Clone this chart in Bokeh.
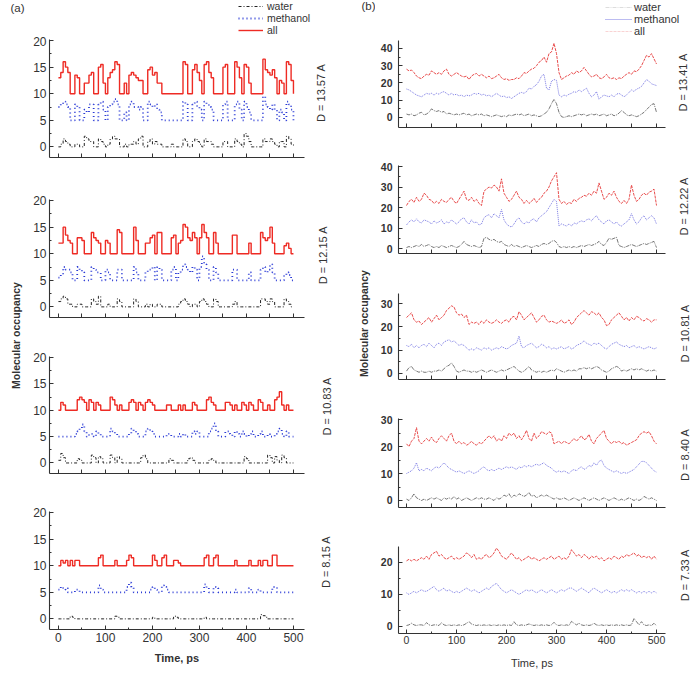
import math

from bokeh.embed import file_html
from bokeh.layouts import column, row
from bokeh.models import FixedTicker, Label, Legend, LegendItem, Range1d
from bokeh.plotting import figure
from bokeh.resources import INLINE

STEP_PS = 5  # sampling interval of every occupancy trace (ps)

# ---------------- (a) occupancy traces, one list per series ----------------
a1_water = [0, 0.5, 1.5, 1, 0.5, 0, 0, 0.5, 0.5, 0,
            0, 2, 1.5, 1, 1, 0, 0, 1.5, 1, 0.5,
            0, 0.5, 1.5, 2, 1.5, 1.5, 0, 0, 0.5, 0,
            0.5, 0.5, 1, 0.5, 1.5, 2, 0, 0, 1, 1.5,
            0.5, 1, 0.5, 0.5, 0, 0, 0, 0, 0.5, 0,
            0, 0, 0, 1.5, 1, 0, 0, 1, 1.5, 1,
            0.5, 0, 1.5, 1, 1, 0.5, 0, 0, 0, 0,
            1, 1, 0, 0, 0, 1.5, 1, 0.5, 0, 2.5,
            2, 1, 0, 0, 0, 0, 0, 1.5, 1, 1,
            1.5, 1, 0.5, 0, 1, 1, 0, 2, 1.5, 0.5,
            0]
a1_methanol = [7.5, 8, 8.5, 8, 7.5, 5, 5, 8, 7.5, 5,
               5, 7, 6.5, 8, 8, 5, 5, 8, 8.5, 7,
               5, 7.5, 8, 8.5, 9, 8, 5, 5, 6.5, 5,
               8, 8.5, 7.5, 7.5, 7, 7.5, 5, 5, 8.5, 8,
               7.5, 8, 7, 6.5, 5, 5, 5, 5, 5, 5,
               5, 5, 5, 8.5, 8, 5, 5, 8, 8.5, 7.5,
               7, 5, 8.5, 8, 7.5, 7, 5, 5, 5, 5,
               8, 8.5, 5, 5, 5, 8, 8.5, 7, 5, 8.5,
               7.5, 6.5, 5, 5, 5, 5, 5, 9.5, 8, 7.5,
               7, 8, 7, 5, 7, 6.5, 5, 8.5, 8, 7,
               5]
a1_all = [13, 14, 16, 15, 14, 10, 10, 13.5, 13, 10,
          10, 12, 12, 13.5, 14, 10, 10, 15, 15.5, 12,
          10, 13, 14, 14.5, 16, 15.5, 10, 10, 12, 10,
          13.5, 14, 13.5, 13, 12.5, 12.5, 10, 10, 14.5, 15,
          13.5, 14, 12, 12, 10, 10, 10, 10, 10, 10,
          10, 10, 10, 16, 15.5, 10, 10, 14.5, 15.5, 14,
          12.5, 10, 15.5, 16, 14, 13, 10, 10, 10, 10,
          15, 15.5, 10, 10, 10, 16, 15, 13, 10, 15.5,
          15, 12, 10, 10, 10, 10, 10, 16.5, 14.5, 14,
          13.5, 14.5, 13, 10, 12.5, 12, 10, 16, 15.5, 12.5,
          10]

a2_water = [1, 1.5, 2, 1.5, 0.5, 0.5, 0, 0, 0.5, 0.5,
            0, 0, 0, 0, 1.5, 1, 0.5, 2, 0, 0,
            0, 0.5, 0, 0, 0, 1.5, 1, 0, 0, 0,
            0, 0, 1.5, 1, 0, 0, 0, 0.5, 0, 0.5,
            0, 0, 0.5, 0.5, 0, 0, 0, 0, 0, 0,
            0, 0.5, 1, 1.5, 1, 0.5, 0, 0.5, 0.5, 0,
            1, 1.5, 1, 0.5, 0, 0, 1.5, 1, 0, 0,
            0, 0, 0, 0, 0.5, 1, 0, 0, 0, 0,
            0, 0, 0, 0, 0, 0, 1.5, 1.5, 1, 0.5,
            1.5, 1, 0, 0, 0, 0, 1.5, 1, 0.5, 0,
            0]
a2_methanol = [5.5, 6, 7.5, 7, 7, 6.5, 5, 5, 7.5, 7,
               6.5, 5, 5, 5, 7.5, 7, 6.5, 6.5, 5, 5,
               7, 6.5, 5, 5, 5, 7, 7, 5, 5, 5,
               5, 5, 7.5, 6.5, 5, 5, 5, 6.5, 7, 7,
               7.5, 5, 7.5, 7, 5, 5, 5, 5, 7, 7.5,
               5, 6.5, 7, 8, 7.5, 7, 6.5, 7.5, 7, 5,
               7.5, 9.5, 8, 7, 5, 5, 7.5, 6.5, 5, 5,
               5, 5, 5, 5, 7, 7, 5, 5, 5, 5,
               5, 6.5, 5, 5, 5, 5, 7, 7.5, 6.5, 7,
               8, 6.5, 5, 5, 5, 5, 6, 6.5, 6, 5,
               5]
a2_all = [12, 12, 15, 13.5, 12.5, 12, 10, 10, 13, 13,
          12.5, 10, 10, 10, 14, 13, 12.5, 12, 10, 10,
          12.5, 12, 10, 10, 10, 14.5, 14, 10, 10, 10,
          10, 10, 15, 12.5, 10, 10, 10, 12, 12, 13,
          13.5, 10, 14, 14, 10, 10, 10, 10, 13, 13.5,
          10, 12, 12.5, 15.5, 15, 13, 12.5, 14, 13, 10,
          13, 15.5, 14, 13, 10, 10, 14, 12, 10, 10,
          10, 10, 10, 10, 13.5, 13.5, 10, 10, 10, 10,
          10, 12, 10, 10, 10, 10, 14, 13, 12.5, 13,
          15, 12, 10, 10, 10, 10, 11.5, 12, 11, 10,
          10]

a3_water = [0.5, 1.8, 1, 0, 0, 0, 0, 0, 0.8, 0.5,
            0, 0, 0, 0, 1.5, 1, 0, 1.2, 0.8, 0,
            0, 0, 1.5, 1, 0, 1.2, 0.8, 0, 0, 0,
            0, 0, 0, 0, 0, 1, 1.5, 0.8, 0, 0,
            0, 0, 0, 0, 0, 0, 0, 0.8, 0.5, 0,
            0, 0, 0, 0, 0, 0.8, 1, 0.5, 0, 0,
            0, 0, 0, 0, 0.5, 0.8, 0.5, 0, 0, 0,
            0, 0, 0, 0, 0, 0, 0, 0, 0, 1.2,
            0.8, 0, 0, 0, 0, 0, 0, 0, 0, 1.5,
            1, 0, 1.2, 0.5, 0, 1.5, 1, 0, 0, 0,
            0]
a3_methanol = [5, 5, 5, 5, 5, 5, 5, 5.5, 6, 6.5,
               7.3, 6, 5, 5.5, 5.5, 5, 6, 5.5, 5, 5,
               5, 5, 6.5, 6, 5.5, 5, 5, 5, 5, 5,
               5.5, 6.5, 6, 5.5, 5, 5, 5, 6, 6.5, 6,
               5.5, 5, 5, 5, 5, 5, 5.5, 5.5, 5, 5,
               5, 5.5, 5, 5.5, 5, 5, 5, 6, 5.5, 6,
               5, 5, 5, 5, 6, 6.5, 7.5, 6, 5, 5,
               5, 6, 6, 5.5, 5, 6, 5.5, 5, 6, 5.5,
               5, 5.5, 6, 5, 5, 5.5, 6, 5, 5, 5.5,
               5, 5, 5.5, 6, 6.5, 5.5, 5, 6, 5, 5,
               5]
a3_all = [10, 11.5, 11, 10, 10, 10, 10, 10, 12, 12.5,
          12, 11.5, 10, 12, 11.5, 10, 11.5, 11, 10, 10,
          10, 10, 12.5, 12, 11, 10, 11, 10, 10, 10,
          11.5, 12, 11.5, 10, 11.5, 11, 10, 11.5, 12, 11.5,
          11, 10, 10, 10, 10, 10, 11, 11, 10, 10,
          10, 11, 10, 11, 10, 10, 10, 11.5, 11, 10,
          10, 10, 10, 12, 12.5, 11.5, 11, 10, 10, 10,
          10, 11.5, 11.5, 11, 10, 11, 10, 10, 11.5, 11,
          10, 11.5, 11, 10, 10, 12, 11.5, 10, 10, 11,
          10, 10, 12, 12.5, 13.5, 11, 10, 11, 10, 10,
          10]

a4_water = [0, 0, 0, 0, 0, 0.5, 0.3, 0, 0, 0,
            0, 0, 0, 0, 0, 0, 0, 0, 0, 0,
            0, 0, 0, 0, 0.5, 0.3, 0, 0, 0, 0,
            0, 0, 0, 0, 0, 0, 0, 0, 0, 0,
            0.3, 0, 0, 0, 0, 0, 0, 0, 0, 0.5,
            0.3, 0, 0, 0, 0, 0, 0, 0, 0, 0,
            0, 0, 0.3, 0, 0, 0, 0, 0, 0, 0,
            0, 0, 0, 0, 0, 0, 0, 0, 0, 0,
            0, 0, 0, 0, 0, 0, 0.8, 0.6, 0.3, 0,
            0, 0, 0, 0, 0, 0, 0, 0, 0, 0,
            0]
a4_methanol = [5.5, 6, 5.5, 5.8, 5, 5, 5, 5.5, 5.5, 5,
               5, 5, 5, 5, 5, 5, 5, 6.3, 5.5, 5,
               5, 5, 5, 5, 5, 5, 5, 5, 5, 6,
               6.8, 6, 5, 5, 5, 5, 5, 5, 5, 5.5,
               6, 5.5, 5, 5, 6.3, 6, 5.5, 5, 5, 5,
               5, 5, 5, 5, 5, 5, 5, 5, 5, 5,
               5, 5, 6.5, 5.8, 5, 5, 6, 5.8, 5, 5,
               5, 5, 5, 5, 5, 5.5, 5, 5, 5, 5,
               5, 5.8, 5, 5, 5, 5.5, 5, 5, 5, 5,
               5, 6, 6, 5, 5, 5, 5, 5, 5, 5,
               5]
a4_all = [10, 11, 10.5, 11, 10, 11, 10, 11, 11, 10,
          10, 10, 10, 10, 10, 10, 10, 11.5, 12, 10,
          10, 10, 10, 10, 11, 10, 10, 10, 10, 11,
          12, 11.5, 10, 10, 10, 10, 10, 10, 10, 10,
          12, 11, 10, 10, 11.5, 12, 10, 10, 10, 11,
          11, 10.5, 10, 10, 10, 10, 10, 10, 10, 10,
          10, 10, 11.5, 12, 10, 10, 11.5, 12, 10, 10,
          10, 10, 10, 10, 10, 11, 10, 10, 10, 10,
          10, 11, 10, 10, 10, 11, 10, 11, 11, 10,
          10, 12, 12, 10, 10, 10, 10, 10, 10, 10,
          10]

# ---------------- (b) occupancy traces ----------------
b1_water = [2, 1.5, 2, 1, 1.5, 2.5, 3, 1.5, 2, 3,
            5, 4, 3.5, 4, 3, 3.5, 2, 2.5, 2, 1.5,
            2, 1.5, 2, 2.5, 1.5, 2, 1, 1.5, 2, 1.5,
            2, 1, 1.5, 1, 0.5, 1, 1.5, 1, 0.5, 1,
            0.5, 1.5, 1, 1.5, 2, 1.5, 2, 1, 1.5, 2,
            1, 1.5, 1, 0.5, 1, 2, 3, 5, 8, 10.5,
            8, 3, 0.5, 0, 0.5, 1, 0.5, 1, 1.5, 2,
            1.5, 2, 1, 1.5, 2, 1.5, 2, 1, 1.5, 2,
            1, 1.5, 2, 1, 1.5, 2.5, 4, 3, 1.5, 1,
            1.5, 1, 0.5, 1, 2, 3, 4.5, 6, 7.5, 8,
            3]
b1_methanol = [16.5, 16, 15, 14, 13, 12.5, 12, 13, 14, 13.5,
               14, 13, 14, 13.5, 14.5, 15, 14, 13, 14, 13,
               13.5, 12.5, 13, 12, 13, 12.5, 13, 14, 13.5, 14,
               13, 13.5, 12.5, 13, 12, 13, 14, 13, 12, 12.5,
               11.5, 12, 11, 12, 13, 14, 14.5, 14, 15, 17,
               16.5, 18, 19, 21, 24, 25, 17, 16, 21, 22,
               21.5, 13, 12, 13, 12.5, 13.5, 14, 15, 14.5, 16,
               15, 16, 17, 14, 12, 13, 15, 10.5, 12, 13,
               12.5, 12, 13, 12, 13.5, 14, 13, 12, 13, 14.5,
               16, 15, 16.5, 17, 18, 20, 22, 21, 19.5, 19,
               18.5]
b1_all = [28, 27, 27.5, 26, 24, 23, 22.5, 24, 25, 24.5,
          27, 26, 25, 26, 25, 27, 28, 25, 24, 25,
          26, 25, 24, 23.5, 24, 22, 24, 25, 25.5, 24,
          25, 24, 23, 24, 22.5, 23, 24, 25, 23, 22,
          22.5, 21.5, 22, 22, 23, 22.5, 24, 26, 25.5, 27,
          28, 28.5, 30, 32, 33, 35, 32, 37, 38, 43,
          37, 26, 22, 23, 24, 24.5, 26, 25, 27, 26,
          27, 29, 27, 25, 23.5, 24, 25, 23, 22.5, 23.5,
          25, 23, 22.5, 23, 22, 23, 22.5, 24, 25, 26,
          25, 27, 26.5, 28, 30, 33, 36, 35, 37, 34,
          31]

b2_water = [0.5, 1, 0.5, 1, 1.5, 1, 2, 1, 1.5, 2,
            1, 0.5, 1, 0.5, 1.5, 1, 0.5, 1, 1.5, 1,
            0.5, 1, 2, 3.5, 2, 1.5, 1, 1.5, 1, 0.5,
            1, 5, 5.5, 4.5, 4, 4.5, 3.5, 3, 3.5, 2,
            1.5, 1, 2, 1, 1.5, 1, 0.5, 1, 1.5, 1,
            0.5, 1, 1.5, 1, 2, 2.5, 2, 2.5, 3.5, 4,
            3, 1, 0.5, 1, 0.5, 1, 0.5, 1, 0.5, 1,
            1.5, 1, 1.5, 2, 1.5, 2, 2.5, 3.5, 2, 1.5,
            3, 5, 4.5, 5, 5.5, 1.5, 1, 0.5, 1, 1.5,
            2, 1.5, 1, 1.5, 2, 2.5, 2, 2.5, 3, 3.5,
            0.5]
b2_methanol = [11.5, 13, 14, 13, 14.5, 13, 12.5, 14, 13.5, 13,
               12, 13.5, 12.5, 13, 14, 12, 13, 12.5, 14, 13,
               12, 13, 14.5, 15, 13, 12, 14, 12.5, 13, 11.5,
               12, 15, 16, 16.5, 15, 17, 16, 15, 19, 14,
               12, 11, 10.5, 12, 14, 15, 13, 12, 13, 12.5,
               14, 14.5, 13, 15, 16, 17, 18, 20, 22, 24,
               23, 11, 12, 11.5, 11, 12, 11, 12.5, 12, 13,
               13.5, 13, 14, 14.5, 13.5, 15, 16, 14, 13, 12,
               13.5, 14, 13, 12, 13, 11.5, 11, 12, 13, 14,
               17, 14, 12, 13, 15, 16, 14, 15, 16, 15,
               12]
b2_all = [21, 23, 24, 22.5, 25, 23, 24, 27, 26, 24,
          23.5, 22, 23, 22, 24, 23, 22.5, 24, 25, 23,
          22, 24, 26, 28, 24, 23.5, 25, 23, 24, 22,
          21, 28, 29, 30, 29.5, 31, 30, 28, 34, 27,
          25, 23, 24, 26, 28, 25, 24, 22, 23.5, 22,
          23, 24.5, 22.5, 24, 25, 27, 28, 30, 33, 35,
          37, 24, 22, 23, 21.5, 22.5, 22, 24, 23, 24.5,
          25, 26, 25.5, 27, 26, 28, 27, 32, 28, 24,
          25, 27, 26, 28, 25, 23, 22, 23.5, 22, 24,
          31, 26, 23, 24, 26, 27, 26, 27.5, 28, 29,
          21]

b3_water = [1, 2.5, 3, 1.5, 1, 0.5, 1, 0.5, 0.5, 1,
            0.5, 1, 1, 1.5, 1, 2, 3, 3.5, 4.5, 3,
            1, 0.5, 1, 1.5, 1, 1, 0.5, 1, 0.5, 1,
            1.5, 1, 0.5, 1, 1.5, 1, 0.5, 1, 1.5, 1,
            1.5, 2, 2.5, 3, 2, 1, 0.5, 1, 2, 3,
            1.5, 1, 0.5, 1, 0.5, 1, 0.5, 1, 1.5, 1,
            2, 1.5, 1, 0.5, 1, 1.5, 1, 1.5, 1, 2,
            2, 2.5, 2, 2.5, 2, 2.5, 3, 2.5, 1.5, 1,
            0.5, 1, 2, 2.5, 3, 2.5, 1, 1.5, 1, 1.5,
            2, 1.5, 2, 1.5, 2, 1.5, 1, 1.5, 1, 1.5,
            1]
b3_methanol = [12, 11.5, 12.5, 11, 12, 11, 12, 12.5, 11.5, 13,
               12, 11, 12.5, 13, 12, 13.5, 14, 14.5, 13.5, 14,
               13, 12, 12.5, 12, 11, 10, 10.5, 10, 11, 10.5,
               10, 11, 10.5, 11, 10, 10.5, 11, 10.5, 11.5, 11,
               10.5, 11, 12, 12.5, 13, 16, 11.5, 11, 12, 12.5,
               13, 12, 11, 11.5, 12.5, 12, 11, 11.5, 10.5, 11,
               10.5, 11, 11.5, 10.5, 11, 11.5, 10.5, 11, 12, 12.5,
               13, 14, 13, 12.5, 12, 13, 12.5, 13, 12, 11,
               10.5, 11.5, 12.5, 13, 13.5, 12.5, 12, 11.5, 12, 11,
               11.5, 12, 11, 11.5, 11, 10.5, 11, 11.5, 11, 10.5,
               11]
b3_all = [24, 25, 26, 23, 22, 22.5, 21, 22, 23, 24,
          22, 23.5, 25, 23, 24, 25, 27, 28, 29, 28.5,
          26, 25, 25.5, 24, 25, 21, 22, 21.5, 22, 21,
          22.5, 21.5, 23, 22, 21.5, 22, 23, 22, 21.5, 22.5,
          23, 22, 24, 24.5, 23, 26.5, 25, 23, 24, 25,
          26, 24, 22, 23, 24.5, 25, 23, 22, 22.5, 22,
          21.5, 22, 23, 21.5, 22, 23, 21, 22, 24, 25,
          26, 27, 26, 25, 26.5, 26, 25, 26, 24, 23,
          20.5, 21, 23, 24, 25, 26, 24.5, 23, 24, 22.5,
          24, 23, 24.5, 24, 23, 22.5, 23.5, 23, 22, 23,
          23]

b4_water = [0.5, 0, 1, 2.5, 1, 0.5, 0, 0.5, 0, 0.5,
            1, 0.5, 1, 0.5, 0, 1, 0.5, 1, 0.5, 1.5,
            0.5, 1, 0, 0.5, 1, 0.5, 0, 0.5, 1, 0.5,
            1, 0.5, 0.5, 1, 0.5, 0, 1, 0.5, 1, 2,
            1.5, 2.5, 1, 2, 1.5, 2.5, 2, 1.5, 2, 3,
            1.5, 2, 1, 1.5, 2, 1.5, 2, 1.5, 1, 0.5,
            1, 0.5, 0.5, 1, 0.5, 0, 0.5, 1, 0.5, 0,
            0.5, 1, 0.5, 0, 0.5, 1, 0.5, 0, 0.5, 1,
            0.5, 0, 0.5, 1, 0.5, 0, 0.5, 0, 0.5, 1,
            0.5, 0, 0.5, 0, 0.5, 1.5, 1, 0.5, 1, 0.5,
            0]
b4_methanol = [10, 10.5, 11, 12, 14, 11, 11.5, 11, 12, 11.5,
               11, 12, 12.5, 12, 13, 14, 13, 12, 11.5, 11,
               10.5, 11, 10.5, 10, 10.5, 11, 10.5, 10, 10.5, 11,
               12, 12.5, 11.5, 11, 11.5, 11, 11.5, 12, 11.5, 12,
               12.5, 12, 12.5, 12, 11.5, 12.5, 12, 13, 12.5, 13,
               12.5, 13, 13.5, 13, 13.5, 14, 13, 12.5, 12, 11,
               10.5, 11, 10.5, 11, 10.5, 10, 11, 11.5, 11, 12,
               12.5, 11.5, 12, 13, 12.5, 14, 13, 14.5, 15, 13,
               12, 11.5, 11, 10.5, 11, 10.5, 10, 10.5, 10, 10.5,
               11, 11.5, 12.5, 13.5, 14.5, 14.5, 14, 13, 12, 11,
               10.5]
b4_all = [21, 20, 22, 23, 27, 22, 21, 22, 23, 22,
          23.5, 22, 21.5, 23, 24, 23, 22, 24, 25, 22,
          21, 22, 21, 21.5, 20.5, 21, 22, 21, 20.5, 21.5,
          21, 22, 23, 24, 23, 24, 22, 23, 22, 24,
          23, 25, 24, 25, 23, 24, 22.5, 24, 26, 23,
          22, 25, 23, 24, 25.5, 25, 24.5, 25.5, 25, 21,
          21.5, 22, 21, 22, 21.5, 21, 22, 23, 22, 23,
          24, 22.5, 23, 24.5, 22, 21, 23, 24, 25, 26,
          23, 22, 21, 22, 21.5, 22, 21, 21.5, 20.5, 21,
          21.5, 22, 22.5, 24, 25, 25.5, 25, 25.5, 24, 22,
          21]

b5_water = [0.3, 0.5, 1, 0.5, 0.3, 0.5, 0.5, 0.3, 1.2, 0.5,
            0.3, 0.5, 0.5, 0.3, 1.2, 0.5, 0.3, 0.5, 0.3, 0.5,
            0.3, 0.5, 0.3, 0.5, 1, 1.5, 0.8, 0.5, 0.3, 0.5,
            0.3, 0.5, 0.3, 0.5, 0.3, 0.5, 0.3, 0.5, 0.3, 0.5,
            0.3, 0.5, 0.3, 1.5, 0.5, 0.3, 0.5, 0.3, 0.5, 0.8,
            0.5, 0.3, 0.5, 0.3, 0.5, 0.3, 0.5, 0.3, 0.5, 1.3,
            0.5, 0.3, 0.5, 0.3, 0.5, 0.3, 1.6, 1, 0.5, 1,
            0.5, 0.3, 0.5, 0.3, 0.5, 1, 0.5, 0.3, 0.5, 0.3,
            0.5, 0.3, 0.5, 0.3, 0.5, 0.3, 0.5, 0.3, 0.5, 0.3,
            0.5, 2.5, 1.5, 0.5, 1.5, 0.5, 0.3, 0.5, 0.3, 1,
            0.3]
b5_methanol = [10.5, 10, 10.5, 11, 10.5, 11, 11.5, 11, 11, 11.5,
               12, 12.5, 11.5, 11, 11.5, 12, 11, 11.5, 11, 10.5,
               11, 10.5, 11, 11.5, 12, 11.5, 11, 11.5, 11, 10.5,
               11, 11.5, 12, 11.5, 12.5, 13, 13.5, 12.5, 11.5, 11,
               10.5, 11, 11.5, 11, 10.5, 10, 10.5, 11, 11.5, 11,
               11.5, 11, 10.5, 11, 11.5, 11, 10.5, 11, 11.5, 11,
               10.5, 11, 11.5, 11, 11.5, 12, 12, 11.5, 11, 11.5,
               12, 11.5, 11, 10.5, 11.5, 12, 11.5, 11, 10.5, 11,
               11.5, 11, 10.5, 11, 10.5, 11, 11.5, 11, 11.5, 11,
               11.5, 11, 10.5, 11, 10.5, 11, 10.5, 11, 10.5, 11,
               10.5]
b5_all = [20.5, 21, 20.5, 21, 20.5, 21, 21.5, 21, 22, 21,
          22.5, 23, 23.5, 22, 22.5, 21.5, 21, 21.5, 22, 21,
          21.5, 21, 21.5, 22, 23, 22.5, 21.5, 22.5, 21, 21.5,
          21, 22, 22.5, 21.5, 22, 23, 24.5, 23.5, 22, 21.5,
          21, 22, 23, 22, 21, 21.5, 20.5, 21, 21.5, 22,
          21, 21.5, 21, 20.5, 21, 21.5, 21, 21.5, 22, 21,
          21.5, 22, 21, 21.5, 21, 22, 24, 23, 22, 22.5,
          21.5, 22.5, 22, 21, 22, 21.5, 22, 21, 21.5, 20.5,
          21, 21.5, 21, 22, 21.5, 21, 22, 21.5, 22.5, 22,
          22.5, 23, 22, 22.5, 21.5, 22, 21.5, 22, 21, 22,
          21]

# ---------------- labels and ticks ----------------
SERIES_NAMES = ["water", "methanol", "all"]
A_DISTANCES = ["D = 13.57 A", "D = 12.15 A", "D = 10.83 A", "D = 8.15 A"]
B_DISTANCES = ["D = 13.41 A", "D = 12.22 A", "D = 10.81 A", "D = 8.40 A", "D = 7.33 A"]
TIME_TICKS = [0, 100, 200, 300, 400, 500]
TIME_MINOR = [50, 150, 250, 350, 450]
TIME_ALL = [0, 50, 100, 150, 200, 250, 300, 350, 400, 450, 500]
A_YTICKS = [0, 5, 10, 15, 20]
A_YMINOR = [2.5, 7.5, 12.5, 17.5]
B_YTICKS = [[0, 10, 20, 30, 40], [0, 10, 20, 30, 40], [0, 10, 20, 30], [0, 10, 20, 30], [0, 10, 20]]
B_YMINOR = [[5, 15, 25, 35], [5, 15, 25, 35], [5, 15, 25], [5, 15, 25], [5, 15]]

A_DATA = [(a1_water, a1_methanol, a1_all), (a2_water, a2_methanol, a2_all),
          (a3_water, a3_methanol, a3_all), (a4_water, a4_methanol, a4_all)]
B_DATA = [(b1_water, b1_methanol, b1_all), (b2_water, b2_methanol, b2_all),
          (b3_water, b3_methanol, b3_all), (b4_water, b4_methanol, b4_all),
          (b5_water, b5_methanol, b5_all)]

# ---------------- page geometry ----------------
PAGE_H = 675
FONT = "Liberation Sans"
INK = "#333333"

STRIP_A_W, PANEL_A_W, SIDE_A_W = 28, 278, 44
STRIP_B_W, PANEL_B_W, SIDE_B_W = 25, 292, 31
LEGEND_A_H, LEGEND_B_H = 36, 36

# (height, border_top, border_bottom, y_range, D-label position in its side box)
A_LAYOUT = [
    (144, 3, 23, (-2.0, 20.2), (14, 79)),
    (155, 19, 18, (-2.0, 20.2), (16, 82)),
    (160, 21, 22, (-2.0, 20.2), (20, 92)),
    (180, 16, 46, (-2.0, 20.2), (19, 103)),
]
B_LAYOUT = [
    (104, 4, 13, (-5.8, 44.6), (15, 54)),
    (125, 25, 12, (-2.4, 40.5), (16, 67)),
    (125, 28, 11, (-2.6, 34.3), (17, 67)),
    (130, 28, 13, (-2.6, 30.4), (17, 77)),
    (155, 26, 42, (-2.2, 25.0), (17, 104)),
]
A_X = (-19, 523.5)
B_X = (-16, 518)

A_STYLE = [dict(color="#222222", line_width=1.0, line_dash="3 2 1 2"),
           dict(color="#2b3bd6", line_width=1.8, line_dash="1 3"),
           dict(color="#ee2b24", line_width=1.4)]
B_STYLE = [dict(color="#555555", line_width=0.8, line_dash="4 1 1 1"),
           dict(color="#6a6ae0", line_width=0.9, line_dash="1 1"),
           dict(color="#e53a3a", line_width=0.9, line_dash="3 1")]


def times(vals):
    return [STEP_PS * i for i in range(len(vals))]


def blank(width, height):
    """An axis-less box whose data units are its own pixels."""
    s = figure(width=width, height=height, output_backend="svg", toolbar_location=None,
               x_range=Range1d(0, width), y_range=Range1d(0, height), min_border=0,
               x_axis_location=None, y_axis_location=None)
    s.outline_line_color = None
    s.grid.visible = False
    return s


def base_panel(width, height, left, right, top, bottom, x_rng, y_rng, labelled):
    p = figure(width=width, height=height, output_backend="svg", toolbar_location=None,
               x_range=Range1d(*x_rng), y_range=Range1d(*y_rng),
               min_border_left=left, min_border_right=right,
               min_border_top=top, min_border_bottom=bottom)
    p.outline_line_color = None
    p.xgrid.visible = False
    p.ygrid.visible = False
    for ax in (p.xaxis[0], p.yaxis[0]):
        ax.axis_line_color = INK
        ax.axis_line_width = 1.1
        ax.major_tick_line_color = INK
        ax.minor_tick_line_color = INK
        ax.major_tick_in = 4
        ax.major_tick_out = 0
        ax.minor_tick_in = 2
        ax.minor_tick_out = 0
        ax.major_label_text_font = FONT
        ax.major_label_text_color = INK
    if labelled:
        p.xaxis.ticker = FixedTicker(ticks=TIME_TICKS, minor_ticks=TIME_MINOR)
    else:
        # unlabelled time axis: every tick drawn as an inward minor tick
        p.xaxis.ticker = FixedTicker(ticks=[], minor_ticks=TIME_ALL)
        p.xaxis.minor_tick_in = 4
    return p


def side_box(width, height, text, pos):
    s = blank(width, height)
    s.add_layout(Label(x=pos[0], y=pos[1], text=text, angle=math.pi / 2,
                       text_align="center", text_baseline="middle", text_font=FONT,
                       text_font_size="11px", text_color=INK))
    return s


def legend_box(width, height, styles, kind, loc, glyph_w, standoff, row_h, size):
    s = blank(width, height)
    draw = s.step if kind == "step" else s.line
    # stand-in renderers that only supply the legend samples (no visible points)
    nan = float("nan")
    rends = [draw([nan], [nan], **st) for st in styles]
    s.add_layout(Legend(items=[LegendItem(label=n, renderers=[r]) for n, r in zip(SERIES_NAMES, rends)],
                        location=loc, orientation="vertical", border_line_color=None,
                        background_fill_alpha=0, padding=0, margin=0, spacing=0,
                        glyph_width=glyph_w, glyph_height=row_h, label_height=row_h,
                        label_standoff=standoff, label_text_font=FONT,
                        label_text_font_size=size, label_text_color=INK))
    return s


# ---------------- column (a): step traces ----------------
a_rows = [legend_box(PANEL_A_W + SIDE_A_W, LEGEND_A_H, A_STYLE, "step", (210, 0), 25, 4, 12, "10.5px")]
for i, ((h, top, bottom, y_rng, d_pos), series) in enumerate(zip(A_LAYOUT, A_DATA)):
    last = i == len(A_LAYOUT) - 1
    p = base_panel(PANEL_A_W, h, 21, 2, top, bottom, A_X, y_rng, last)
    p.yaxis.ticker = FixedTicker(ticks=A_YTICKS, minor_ticks=A_YMINOR)
    p.yaxis.major_label_text_font_size = "12px"
    p.yaxis.major_label_standoff = 3
    if last:
        p.xaxis.major_label_text_font_size = "12px"
        p.xaxis.major_label_standoff = 3
        p.xaxis.axis_label = "Time, ps"
        p.xaxis.axis_label_text_font = FONT
        p.xaxis.axis_label_text_font_size = "11px"
        p.xaxis.axis_label_text_font_style = "bold"
        p.xaxis.axis_label_text_color = INK
        p.xaxis.axis_label_standoff = 7
    for vals, style in zip(series, A_STYLE):
        p.step(times(vals), vals, mode="after", **style)
    a_rows.append(row(p, side_box(SIDE_A_W, h, A_DISTANCES[i], d_pos), spacing=0))

# ---------------- column (b): continuous traces ----------------
B_LEGEND_STYLE = [dict(B_STYLE[0], line_alpha=0.25), B_STYLE[1], dict(B_STYLE[2], line_alpha=0.25)]
b_rows = [legend_box(PANEL_B_W + SIDE_B_W, LEGEND_B_H, B_LEGEND_STYLE, "line", (230, -1), 27, 2, 12, "11px")]
for i, ((h, top, bottom, y_rng, d_pos), series) in enumerate(zip(B_LAYOUT, B_DATA)):
    last = i == len(B_LAYOUT) - 1
    p = base_panel(PANEL_B_W, h, 23, 2, top, bottom, B_X, y_rng, last)
    p.yaxis.ticker = FixedTicker(ticks=B_YTICKS[i], minor_ticks=B_YMINOR[i])
    p.yaxis.major_label_text_font_size = "10.5px"
    p.yaxis.major_label_text_font_style = "bold"
    p.yaxis.major_label_standoff = 6
    if last:
        p.xaxis.major_label_text_font_size = "10.5px"
        p.xaxis.major_label_standoff = 2
        p.xaxis.axis_label = "Time, ps"
        p.xaxis.axis_label_text_font = FONT
        p.xaxis.axis_label_text_font_size = "11px"
        p.xaxis.axis_label_text_font_style = "normal"
        p.xaxis.axis_label_text_color = INK
        p.xaxis.axis_label_standoff = 10
    for vals, style in zip(series, B_STYLE):
        p.line(times(vals), vals, **style)
    b_rows.append(row(p, side_box(SIDE_B_W, h, B_DISTANCES[i], d_pos), spacing=0))


# ---------------- side strips with panel tags and shared y titles ----------------
def strip(width, tag, tag_x, tag_y, title_x, title_y):
    s = blank(width, PAGE_H)
    s.add_layout(Label(x=tag_x, y=PAGE_H - tag_y, text=tag, text_baseline="middle",
                       text_font=FONT, text_font_size="11.5px", text_color=INK))
    s.add_layout(Label(x=title_x, y=PAGE_H - title_y, text="Molecular occupancy",
                       angle=math.pi / 2, text_align="center", text_baseline="middle",
                       text_font=FONT, text_font_size="10.5px", text_font_style="bold",
                       text_color=INK))
    return s


strip_a = strip(STRIP_A_W, "(a)", 10, 7, 15, 335)
strip_b = strip(STRIP_B_W, "(b)", 11, 5, 13, 323)

layout = row(strip_a, column(*a_rows, spacing=0), strip_b, column(*b_rows, spacing=0),
             spacing=0)

open("out.html", "w").write(file_html(layout, INLINE))
